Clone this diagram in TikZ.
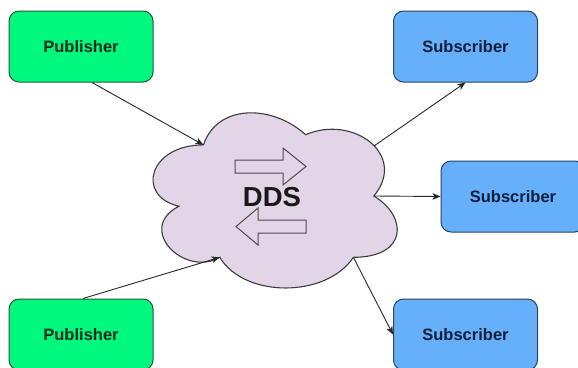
\documentclass[tikz,border=0pt]{standalone}
\usepackage{fontspec}
\setmainfont{Liberation Sans}
\usetikzlibrary{arrows.meta}
\definecolor{pubfill}{RGB}{0,248,126}
\definecolor{pubdraw}{RGB}{45,85,60}
\definecolor{pubtext}{RGB}{20,45,25}
\definecolor{subfill}{RGB}{102,176,250}
\definecolor{subdraw}{RGB}{40,65,100}
\definecolor{subtext}{RGB}{15,30,60}
\definecolor{cloudfill}{RGB}{225,213,231}
\definecolor{clouddraw}{RGB}{60,60,60}
\definecolor{linecol}{RGB}{40,40,40}
\begin{document}
\begin{tikzpicture}[x=1pt,y=-1pt,
  box/.style={rounded corners=10pt, line width=1pt, minimum width=144pt, minimum height=71pt, inner sep=0pt,
    font=\fontsize{16.5}{20}\selectfont\bfseries},
  pubbox/.style={box, fill=pubfill, draw=pubdraw, text=pubtext},
  subbox/.style={box, fill=subfill, draw=subdraw, text=subtext},
  conn/.style={draw=linecol, line width=0.9pt, -{Stealth[length=8pt,width=6.5pt,inset=2pt]}},
  cloudshape/.style={fill=cloudfill, draw=clouddraw, line width=1.1pt},
  blockarrow/.style={fill=cloudfill, draw=black!70, line width=1pt}]
\useasboundingbox (0,0) rectangle (578,367);
\clip (0,0) rectangle (578,367);
\fill[white] (0,0) rectangle (578,367);

% boxes
\node[pubbox] (pub1) at (81,46.5) {Publisher};
\node[pubbox] (pub2) at (81,334.5) {Publisher};
\node[subbox] (sub1) at (465.5,46.5) {Subscriber};
\node[subbox] (sub2) at (513,196.5) {Subscriber};
\node[subbox] (sub3) at (465.5,334.5) {Subscriber};

% cloud
\begin{scope}[shift={(135.3,93.8)}, x=272.6pt, y=-204.4pt]
\draw[cloudshape] (0.25,0.25) .. controls (0.05,0.25) and (0,0.5) .. (0.16,0.55)
  .. controls (0,0.66) and (0.18,0.9) .. (0.31,0.8)
  .. controls (0.4,1) and (0.7,1) .. (0.8,0.8)
  .. controls (1,0.8) and (1,0.6) .. (0.875,0.5)
  .. controls (1,0.3) and (0.8,0.1) .. (0.625,0.2)
  .. controls (0.5,0.05) and (0.3,0.05) .. (0.25,0.25) -- cycle;
\coordinate (cA) at (0.25,0.25);
\coordinate (cE) at (0.31,0.8);
\coordinate (cC) at (0.875,0.5);
\coordinate (cD) at (0.8,0.8);
\end{scope}
\coordinate (cS1) at (374,146);

% block arrows inside cloud
\draw[blockarrow] (235,160) -- (283,160) -- (283,148) -- (306,166.5) -- (283,185) -- (283,173) -- (235,173) -- cycle;
\draw[blockarrow] (306,220) -- (258,220) -- (258,208) -- (236,226.5) -- (258,245) -- (258,233) -- (306,233) -- cycle;

\node[font=\fontsize{27.5}{33}\selectfont\bfseries, text=black!90] (dds) at (272,197) {DDS};

% connectors
\draw[conn] ([xshift=11pt]pub1.south) -- (cA);
\draw[conn] ([xshift=2pt]pub2.north) -- (cE);
\draw[conn] (cS1) -- (sub1.south);
\draw[conn] (cC) -- (sub2.west);
\draw[conn] (cD) -- (sub3.west);
\end{tikzpicture}
\end{document}
